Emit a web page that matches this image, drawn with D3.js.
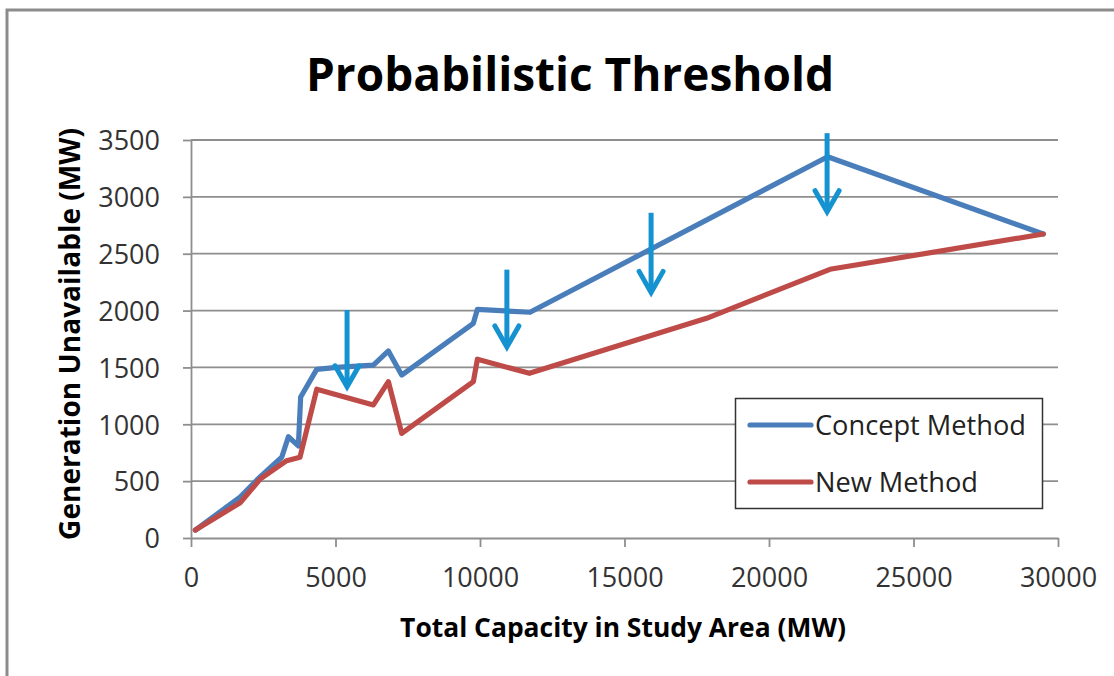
<!DOCTYPE html>
<html>
<head>
<meta charset="utf-8">
<script src="https://cdn.jsdelivr.net/npm/d3@7"></script>
<style>
  body { margin: 0; background: #fff; }
  svg { display: block; }
</style>
</head>
<body>
<div id="chart"></div>
<script>
// values (MW)
var conceptX = [150, 1700, 2400, 3140, 3370, 3715, 3795, 4350, 5040, 6310, 6830, 7290, 9770, 9910, 11730, 22030, 29490];
var conceptY = [70, 360, 540, 710, 890, 810, 1240, 1483, 1500, 1521, 1645, 1433, 1888, 2011, 1985, 3353, 2673];
var newX = [150, 1700, 2400, 3310, 3770, 4350, 6310, 6830, 7290, 9770, 9910, 11710, 17840, 22110, 29490];
var newY = [70, 310, 520, 680, 710, 1308, 1170, 1375, 920, 1375, 1572, 1448, 1932, 2363, 2673];

// the four blue "down" arrows
var arrowX = [5400, 10930, 15920, 22010];
var arrowTop = [2005, 2360, 2860, 3560];
var arrowTip = [1330, 1680, 2160, 2870];

var xTicks = [0, 5000, 10000, 15000, 20000, 25000, 30000];
var yTicks = [0, 500, 1000, 1500, 2000, 2500, 3000, 3500];
var seriesNames = ["Concept Method", "New Method"];

var W = 1114, H = 676;
var colors = ["#4a7ebb", "#be4b48"];
var arrowColor = "#1592d0";
var gridColor = "#8e8e8e";
var font = "'Open Sans', 'Noto Sans', sans-serif";

var svg = d3.select("#chart").append("svg")
    .attr("width", W)
    .attr("height", H);

svg.append("rect").attr("width", W).attr("height", H).attr("fill", "#fff");

// outer chart frame, runs off the right and bottom
svg.append("path")
    .attr("d", "M7," + H + " L7,10 L" + W + ",10")
    .attr("fill", "none")
    .attr("stroke", "#8c8c8c")
    .attr("stroke-width", 3);

var x = d3.scaleLinear().domain([0, 30000]).range([191, 1058]);
var y = d3.scaleLinear().domain([0, 3500]).range([538, 140]);

// fit a text element to a target width
function fitWidth(t, w) {
    var fs = parseFloat(t.attr("font-size"));
    var len = t.node().getComputedTextLength();
    t.attr("font-size", (fs * w / len).toFixed(2));
}

// gridlines
svg.append("g").selectAll("line").data(yTicks.filter(function(d) { return d > 0; })).enter()
    .append("line")
    .attr("x1", x(0)).attr("x2", x(30000))
    .attr("y1", function(d) { return y(d); })
    .attr("y2", function(d) { return y(d); })
    .attr("stroke", gridColor)
    .attr("stroke-width", 1.8);

// axes
var yAxisG = svg.append("g")
    .attr("transform", "translate(" + x(0) + ",0)")
    .call(d3.axisLeft(y).tickValues(yTicks).tickSize(8).tickPadding(23).tickSizeOuter(0)
        .tickFormat(d3.format("d")));
var xAxisG = svg.append("g")
    .attr("transform", "translate(0," + y(0) + ")")
    .call(d3.axisBottom(x).tickValues(xTicks).tickSize(9).tickPadding(21).tickSizeOuter(0)
        .tickFormat(d3.format("d")));

[yAxisG, xAxisG].forEach(function(g) {
    g.select(".domain").attr("stroke", gridColor).attr("stroke-width", 1.8);
    g.selectAll(".tick line").attr("stroke", gridColor).attr("stroke-width", 1.8);
    g.selectAll(".tick text")
        .attr("fill", "#333")
        .style("font-family", font)
        .style("font-size", "27px");
});
yAxisG.selectAll(".tick text").attr("dy", "0.36em");
xAxisG.selectAll(".tick text").attr("dy", "0.72em");

// series lines
var line = d3.line()
    .x(function(d) { return x(d[0]); })
    .y(function(d) { return y(d[1]); });

var series = [
    d3.zip(conceptX, conceptY),
    d3.zip(newX, newY)
];

svg.append("g").selectAll("path").data(series).enter()
    .append("path")
    .attr("d", line)
    .attr("fill", "none")
    .attr("stroke", function(d, i) { return colors[i]; })
    .attr("stroke-width", 5.2)
    .attr("stroke-linejoin", "round")
    .attr("stroke-linecap", "round");

// arrows
var arrows = svg.append("g").selectAll("g").data(d3.range(arrowX.length)).enter()
    .append("g")
    .attr("fill", "none")
    .attr("stroke", arrowColor)
    .attr("stroke-width", 5);
arrows.append("line")
    .attr("x1", function(i) { return x(arrowX[i]); })
    .attr("x2", function(i) { return x(arrowX[i]); })
    .attr("y1", function(i) { return y(arrowTop[i]); })
    .attr("y2", function(i) { return y(arrowTip[i]) - 3; });
arrows.append("path")
    .attr("stroke-linecap", "round")
    .attr("d", function(i) {
        var cx = x(arrowX[i]), ty = y(arrowTip[i]);
        return "M" + (cx - 12) + "," + (ty - 21) + " L" + cx + "," + ty + " L" + (cx + 12) + "," + (ty - 21);
    });

// title
var title = svg.append("text")
    .attr("x", 570).attr("y", 91)
    .attr("text-anchor", "middle")
    .attr("font-family", font)
    .attr("font-weight", "bold")
    .attr("font-size", 40)
    .attr("fill", "#000")
    .text("Probabilistic Threshold");
fitWidth(title, 528);

// axis titles
var xTitle = svg.append("text")
    .attr("x", 623).attr("y", 637)
    .attr("text-anchor", "middle")
    .attr("font-family", font)
    .attr("font-weight", "bold")
    .attr("font-size", 22)
    .attr("fill", "#000")
    .text("Total Capacity in Study Area (MW)");
fitWidth(xTitle, 446);

var yTitle = svg.append("text")
    .attr("transform", "translate(80,334) rotate(-90)")
    .attr("text-anchor", "middle")
    .attr("font-family", font)
    .attr("font-weight", "bold")
    .attr("font-size", 22)
    .attr("fill", "#000")
    .text("Generation Unavailable (MW)");
fitWidth(yTitle, 412);

// legend
var legend = svg.append("g");
legend.append("rect")
    .attr("x", 735.5).attr("y", 398.5)
    .attr("width", 307).attr("height", 110)
    .attr("fill", "#fff")
    .attr("stroke", "#333")
    .attr("stroke-width", 1.5);
var items = legend.selectAll("g.item").data(seriesNames).enter()
    .append("g").attr("class", "item")
    .attr("transform", function(d, i) { return "translate(0," + (425 + i * 57) + ")"; });
items.append("line")
    .attr("x1", 750).attr("x2", 811)
    .attr("stroke", function(d, i) { return colors[i]; })
    .attr("stroke-width", 5.2)
    .attr("stroke-linecap", "round");
var legendText = items.append("text")
    .attr("x", 815).attr("y", 0).attr("dy", "0.36em")
    .attr("font-family", font)
    .attr("font-size", 26)
    .attr("fill", "#222")
    .text(function(d) { return d; });
fitWidth(d3.select(legendText.nodes()[0]), 211);
d3.select(legendText.nodes()[1]).attr("font-size", d3.select(legendText.nodes()[0]).attr("font-size"));
</script>
</body>
</html>
